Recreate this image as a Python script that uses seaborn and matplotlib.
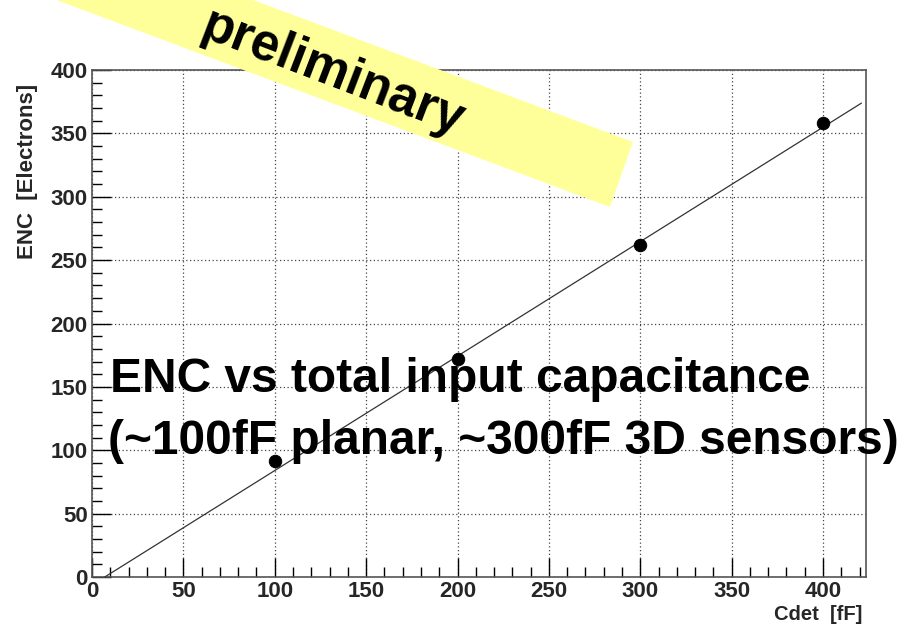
import numpy as np
import pandas as pd
import matplotlib
matplotlib.use("Agg")
import matplotlib.pyplot as plt
import seaborn as sns
from matplotlib.patches import Polygon
from matplotlib.ticker import MultipleLocator

# ---- data ----
cdet_fF = [100, 200, 300, 400]
enc_electrons = [91.5, 172, 262, 358]
fit_range = [7, 421]          # extent of the drawn fit line (fF)
fit_slope = 0.903             # electrons / fF
fit_intercept = -6.3          # electrons

x_ticks = [0, 50, 100, 150, 200, 250, 300, 350, 400]
y_ticks = [0, 50, 100, 150, 200, 250, 300, 350, 400]
x_label = "Cdet  [fF]"
y_label = "ENC  [Electrons]"
overlay_lines = ["ENC vs total input capacitance",
                 "(~100fF planar, ~300fF 3D sensors)"]
banner_text = "preliminary"

df = pd.DataFrame({"Cdet": cdet_fF, "ENC": enc_electrons})
fx = np.array(fit_range, dtype=float)
fit_df = pd.DataFrame({"Cdet": fx, "ENC": fit_slope * fx + fit_intercept})

sns.set_theme(style="white")
plt.rcParams["font.family"] = ["Liberation Sans", "DejaVu Sans"]

W, H = 911, 628
fig = plt.figure(figsize=(W / 100, H / 100), dpi=100)
ax = fig.add_axes([92 / W, 1 - 577 / H, (866 - 92) / W, (577 - 70) / H])

sns.lineplot(data=fit_df, x="Cdet", y="ENC", ax=ax, color="#333333",
             linewidth=0.9, zorder=3)
sns.scatterplot(data=df, x="Cdet", y="ENC", ax=ax, color="black",
                s=80, edgecolor="black", zorder=4)

ax.set_xlim(0, 423.5)
ax.set_ylim(0, 400)
ax.set_xticks(x_ticks)
ax.set_yticks(y_ticks)
ax.xaxis.set_minor_locator(MultipleLocator(10))
ax.yaxis.set_minor_locator(MultipleLocator(10))
ax.grid(True, which="major", linestyle=(0, (1, 2)), color="#444444",
        linewidth=0.9)
ax.tick_params(which="major", direction="in", length=14, width=1.0,
               color="black", top=False, right=False, bottom=True, left=True,
               labelsize=16, pad=3)
ax.tick_params(which="minor", direction="in", length=7, width=1.0,
               color="black", bottom=True, left=True)
for lbl in ax.get_xticklabels() + ax.get_yticklabels():
    lbl.set_fontweight("bold")
for sp in ax.spines.values():
    sp.set_color("#555555")
    sp.set_linewidth(1.2)

ax.set_xlabel("")
ax.set_ylabel("")
fig.text(862 / W, 1 - 615 / H, x_label, ha="right", va="center",
         fontsize=14.5, fontweight="bold")
fig.text(28 / W, 1 - 171 / H, y_label, ha="center", va="center",
         rotation=90, fontsize=16, fontweight="bold")

# overlay text
fig.text(110 / W, 1 - 380 / H, overlay_lines[0], ha="left", va="center",
         fontsize=34.5, fontweight="bold", color="black", zorder=10)
fig.text(108 / W, 1 - 441 / H, overlay_lines[1], ha="left", va="center",
         fontsize=34.5, fontweight="bold", color="black", zorder=10)

# yellow banner
ang = np.deg2rad(20.5)
d = np.array([np.cos(ang), np.sin(ang)])
A = np.array([610, 207])
B = np.array([633, 142])
C = B - d * 750
D = A - d * 750
pts = [(p[0] / W, 1 - p[1] / H) for p in (A, B, C, D)]
fig.patches.append(Polygon(pts, closed=True, transform=fig.transFigure,
                           facecolor="#ffff99", edgecolor="none", zorder=5))
fig.text(333 / W, 1 - 74 / H, banner_text, ha="center", va="center",
         rotation=-21, fontsize=37, fontweight="bold", color="black",
         zorder=6)

fig.savefig("out.png", dpi=100)
